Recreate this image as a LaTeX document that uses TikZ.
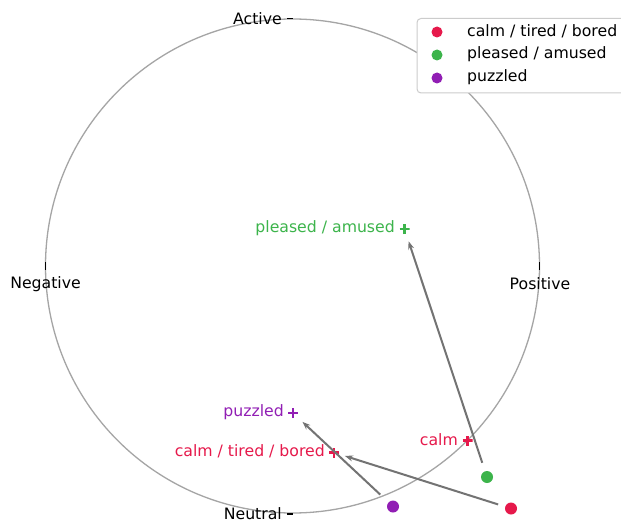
\documentclass[tikz,border=0pt]{standalone}
\usepackage{fontspec}
\setmainfont{DejaVu Sans}
\usetikzlibrary{arrows.meta}
\definecolor{cred}{RGB}{230,25,75}
\definecolor{cgreen}{RGB}{60,180,75}
\definecolor{cpurple}{RGB}{145,30,180}
\definecolor{circgray}{RGB}{165,165,165}
\definecolor{arrgray}{RGB}{115,115,115}
\tikzset{
  lbl/.style={font=\fontsize{15.7}{18}\selectfont, inner sep=0pt},
  axlbl/.style={lbl, text=black},
  dotmark/.style={circle, fill=#1, draw=none, minimum size=12pt, inner sep=0pt},
  legdot/.style={circle, fill=#1, draw=none, minimum size=11pt, inner sep=0pt},
  plusmark/.style={inner sep=0pt, minimum size=10pt,
    path picture={\draw[#1, line width=2.6pt] ([xshift=-5pt]path picture bounding box.center) -- ([xshift=5pt]path picture bounding box.center);
                  \draw[#1, line width=2.6pt] ([yshift=-5pt]path picture bounding box.center) -- ([yshift=5pt]path picture bounding box.center);}},
  conn/.style={draw=arrgray, line width=2pt, -{Stealth[length=8pt,width=6pt]}},
  tickmark/.style={draw=black, line width=1.3pt},
}
\begin{document}
\begin{tikzpicture}[x=1pt,y=-1pt]
\clip (0,0) rectangle (621,524);
\fill[white] (0,0) rectangle (621,524);
% circle
\coordinate (ctr) at (292.5,266);
\draw[circgray, line width=1.3pt] (ctr) circle (247);
% ticks
\coordinate (tA1) at (287,18.5); \coordinate (tA2) at (293,18.5);
\draw[tickmark] (tA1) -- (tA2);
\coordinate (tN1) at (287,514); \coordinate (tN2) at (293,514);
\draw[tickmark] (tN1) -- (tN2);
\coordinate (tL1) at (45.5,262); \coordinate (tL2) at (45.5,270);
\draw[tickmark] (tL1) -- (tL2);
\coordinate (tR1) at (539.5,262); \coordinate (tR2) at (539.5,270);
\draw[tickmark] (tR1) -- (tR2);
% axis labels
\node[axlbl, anchor=east] (active) at (282,19) {Active};
\node[axlbl, anchor=east] (neutral) at (282,514) {Neutral};
\node[axlbl] (negative) at (45.5,284) {Negative};
\node[axlbl] (positive) at (540,284) {Positive};
% dots
\node[dotmark=cred] (dred) at (511,508.5) {};
\node[dotmark=cgreen] (dgreen) at (487,477) {};
\node[dotmark=cpurple] (dpurple) at (393,506.5) {};
% plus marks
\node[plusmark=cgreen] (pgreen) at (404.5,229) {};
\node[plusmark=cpurple] (ppurple) at (293,413) {};
\node[plusmark=cred] (pred) at (334,452.5) {};
\node[plusmark=cred] (pcalm) at (467.5,440.5) {};
% labels
\node[lbl, text=cgreen, anchor=east] (lgreen) at (395,228) {pleased / amused};
\node[lbl, text=cpurple, anchor=east] (lpurple) at (284,412) {puzzled};
\node[lbl, text=cred, anchor=east] (lred) at (325,451.5) {calm / tired / bored};
\node[lbl, text=cred, anchor=east] (lcalm) at (458,439.5) {calm};
% connectors
\draw[conn, shorten <=13.5pt, shorten >=11.5pt] (dred.center) -- (pred.center);
\draw[conn, shorten <=15pt, shorten >=13pt] (dgreen.center) -- (pgreen.center);
\draw[conn, shorten <=17.5pt, shorten >=13pt] (dpurple.center) -- (ppurple.center);
% legend
\draw[draw=black!20, fill=white, rounded corners=4pt, line width=1pt] (417,18.5) rectangle (640,93);
\node[legdot=cred] (ld1) at (437,32) {};
\node[legdot=cgreen] (ld2) at (437,55) {};
\node[legdot=cpurple] (ld3) at (437,78) {};
\node[lbl, anchor=west] (lt1) at (467,31.5) {calm / tired / bored};
\node[lbl, anchor=west] (lt2) at (467,54.5) {pleased / amused};
\node[lbl, anchor=west] (lt3) at (467,77.5) {puzzled};
\end{tikzpicture}
\end{document}
